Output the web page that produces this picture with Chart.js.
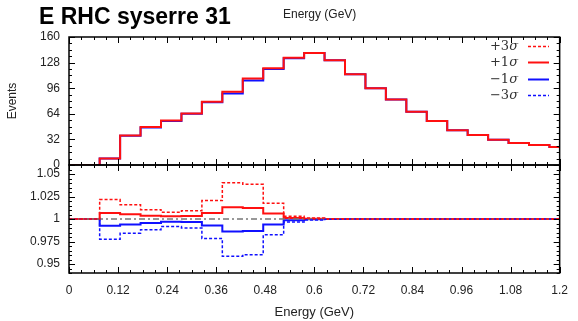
<!DOCTYPE html>
<html>
<head>
<meta charset="utf-8">
<script src="https://cdn.jsdelivr.net/npm/chart.js@4.4.1/dist/chart.umd.min.js"></script>
<style>
  html, body { margin: 0; padding: 0; background: #fff; }
</style>
</head>
<body>
<canvas id="chart" width="578" height="321"></canvas>
<script>
// bin edges in GeV, one value per bin below
const binEdges = [0, 0.075, 0.125, 0.175, 0.225, 0.275, 0.325, 0.375, 0.425, 0.475, 0.525, 0.575,
  0.625, 0.675, 0.725, 0.775, 0.825, 0.875, 0.925, 0.975, 1.025, 1.075, 1.125, 1.175, 1.2]

const upEvents = [0, 8, 37, 47.5, 55.5, 64.5, 79, 91.5, 108, 121, 134, 140,
  131, 113.5, 96, 82, 66.5, 55, 43.5, 37.5, 31.5, 27.5, 25, 22.5]
const downEvents = [0, 8, 36.5, 47, 55, 64, 78.5, 89.5, 105.5, 120, 133.5, 140,
  131, 113.5, 96, 82, 66.5, 55, 43.5, 37.5, 31.5, 27.5, 25, 22.5]

const up3Ratio = [1, 1.0216, 1.0157, 1.0104, 1.0074, 1.0093, 1.0205, 1.0403, 1.0385, 1.0175, 1.003, 1.0012,
  1.0003, 1, 1, 1, 1, 1, 1, 1, 1, 1, 1, 1]
const up1Ratio = [1, 1.0067, 1.0052, 1.0037, 1.003, 1.0032, 1.0067, 1.013, 1.0123, 1.006, 1.001, 1.0003,
  1, 1, 1, 1, 1, 1, 1, 1, 1, 1, 1, 1]
const down1Ratio = [1, 0.9925, 0.994, 0.9955, 0.997, 0.9966, 0.9929, 0.9861, 0.9868, 0.994, 0.9985, 0.9997,
  1, 1, 1, 1, 1, 1, 1, 1, 1, 1, 1, 1]
const down3Ratio = [1, 0.9776, 0.9843, 0.988, 0.9917, 0.9899, 0.9783, 0.9585, 0.9603, 0.9824, 0.9966, 0.9988,
  0.9998, 1, 1, 1, 1, 1, 1, 1, 1, 1, 1, 1]

const energyTicks = [0, 0.12, 0.24, 0.36, 0.48, 0.6, 0.72, 0.84, 0.96, 1.08, 1.2]
const eventTicks = [0, 32, 64, 96, 128, 160]
const ratioTicks = [0.95, 0.975, 1, 1.025, 1.05]

const legendLabels = ['+3', '+1', '\u22121', '\u22123']

const RED = '#ff1010'
const BLUE = '#1010ff'
const TEXT = '#222'
const tickFont = { family: 'Liberation Sans', size: 12 }

// value of bin i is held from edge i to edge i+1, last edge closes the last bin
const toSteps = (values) => binEdges.map((x, i) => ({ x, y: values[Math.min(i, values.length - 1)] }))

const line = (values, axis, color, width, dash, order) => ({
  data: toSteps(values),
  yAxisID: axis,
  borderColor: color,
  borderWidth: width,
  borderDash: dash,
  stepped: 'before',
  pointRadius: 0,
  fill: false,
  order
})

// frame with inward ticks on every side of both panels
const framePlugin = {
  id: 'frame',
  afterDatasetsDraw (chart) {
    const { ctx, chartArea, scales } = chart
    const xs = scales.x
    const left = chartArea.left
    const right = chartArea.right
    ctx.save()
    ctx.strokeStyle = '#000'
    const panels = [[scales.y, eventTicks, 8], [scales.y2, ratioTicks, 0.005]]
    panels.forEach(([ys, major, minorStep]) => {
      const top = ys.top
      const bottom = ys.bottom
      ctx.lineWidth = 1
      ctx.beginPath()
      for (let i = 0; i <= 40; i++) {
        const v = i * 0.03
        const len = energyTicks.some(t => Math.abs(t - v) < 1e-6) ? 6 : 3
        const px = Math.round(xs.getPixelForValue(v)) + 0.5
        ctx.moveTo(px, top); ctx.lineTo(px, top + len)
        ctx.moveTo(px, bottom); ctx.lineTo(px, bottom - len)
      }
      const steps = Math.round((ys.max - ys.min) / minorStep)
      for (let i = 0; i <= steps; i++) {
        const v = ys.min + i * minorStep
        const len = major.some(t => Math.abs(t - v) < minorStep / 10) ? 6 : 3
        const py = Math.round(ys.getPixelForValue(v)) + 0.5
        ctx.moveTo(left, py); ctx.lineTo(left + len, py)
        ctx.moveTo(right, py); ctx.lineTo(right - len, py)
      }
      ctx.stroke()
      ctx.lineWidth = 1.5
      ctx.strokeRect(left, top, right - left, bottom - top)
    })
    ctx.restore()
  },
  afterDraw (chart) {
    const { ctx } = chart
    ctx.save()
    ctx.fillStyle = '#000'
    ctx.textBaseline = 'middle'
    ctx.font = 'bold 23px "Liberation Sans"'
    ctx.fillText('E RHC syserre 31', 39, 18)
    ctx.fillStyle = TEXT
    ctx.font = '12px "Liberation Sans"'
    ctx.fillText('Energy (GeV)', 283, 15)

    // legend: label on the left, line sample on the right
    const styles = [[RED, [3, 2], 1.5], [RED, [], 2], [BLUE, [], 2], [BLUE, [3, 2], 1.5]]
    const rowY = [46, 62, 79, 95]
    legendLabels.forEach((label, i) => {
      const y = rowY[i]
      ctx.fillStyle = '#333'
      ctx.textAlign = 'right'
      ctx.font = 'italic 13px "DejaVu Serif"'
      const sigmaW = ctx.measureText('\u03c3').width
      ctx.fillText('\u03c3', 518, y + 1)
      ctx.font = '13px "DejaVu Serif"'
      ctx.fillText(label, 518 - sigmaW, y + 1)
      const [color, dash, width] = styles[i]
      ctx.strokeStyle = color
      ctx.lineWidth = width
      ctx.setLineDash(dash)
      ctx.beginPath()
      ctx.moveTo(528, y + 0.5)
      ctx.lineTo(549, y + 0.5)
      ctx.stroke()
    })
    ctx.restore()
  }
}

new Chart(document.getElementById('chart'), {
  type: 'line',
  data: {
    datasets: [
      line(upEvents, 'y', RED, 2, [], 1),
      line(downEvents, 'y', BLUE, 2, [], 2),
      line(up3Ratio, 'y2', RED, 1.5, [3, 2], 3),
      line(down3Ratio, 'y2', BLUE, 1.5, [3, 2], 4),
      {
        data: [0, 1.2].map(x => ({ x, y: 1 })),
        yAxisID: 'y2',
        borderColor: '#777',
        borderWidth: 1.5,
        borderDash: [6, 3, 2, 3],
        pointRadius: 0,
        order: 5
      },
      line(up1Ratio, 'y2', RED, 2, [], 6),
      line(down1Ratio, 'y2', BLUE, 2, [], 7)
    ]
  },
  options: {
    responsive: false,
    animation: false,
    devicePixelRatio: 1,
    layout: { padding: { top: 37, right: 12, left: 0, bottom: 0 } },
    plugins: {
      legend: { display: false },
      tooltip: { enabled: false }
    },
    scales: {
      x: {
        type: 'linear',
        min: 0,
        max: 1.2,
        afterBuildTicks: s => { s.ticks = energyTicks.map(value => ({ value })) },
        afterFit: s => { s.height = 48 },
        grid: { display: false, drawTicks: false },
        border: { display: false },
        ticks: { padding: 10, color: TEXT, font: tickFont, maxRotation: 0, autoSkip: false, callback: v => String(v) },
        title: { display: true, text: 'Energy (GeV)', color: TEXT, font: { family: 'Liberation Sans', size: 13 }, padding: { top: 0, bottom: 1 } }
      },
      y: {
        type: 'linear',
        stack: 'panels',
        stackWeight: 128,
        weight: 2,
        min: 0,
        max: 160,
        afterBuildTicks: s => { s.ticks = eventTicks.map(value => ({ value })) },
        afterFit: s => { s.width = 69 },
        grid: { display: false, drawTicks: false },
        border: { display: false },
        ticks: { padding: 9, color: TEXT, font: tickFont, autoSkip: false, callback: v => String(v) },
        title: { display: true, text: 'Events', color: TEXT, font: tickFont, padding: { top: 5, bottom: 0 } }
      },
      y2: {
        type: 'linear',
        stack: 'panels',
        stackWeight: 108,
        weight: 1,
        min: 0.94,
        max: 1.06,
        afterBuildTicks: s => { s.ticks = ratioTicks.map(value => ({ value })) },
        afterFit: s => { s.width = 69 },
        grid: { display: false, drawTicks: false },
        border: { display: false },
        ticks: { padding: 9, color: TEXT, font: tickFont, autoSkip: false, callback: v => String(v) }
      }
    }
  },
  plugins: [framePlugin]
})
</script>
</body>
</html>
